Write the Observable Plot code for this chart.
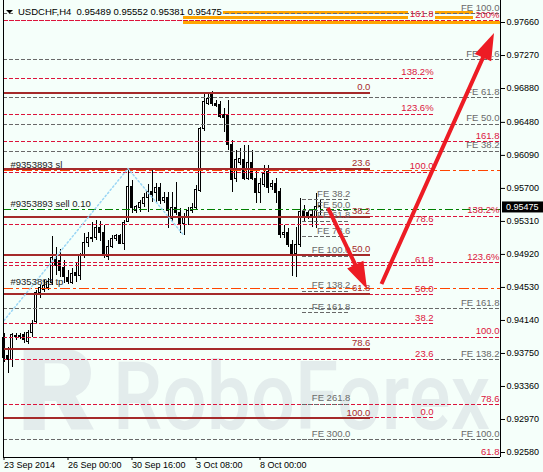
<!DOCTYPE html>
<html>
<head>
<meta charset="utf-8">
<title>USDCHF H4</title>
<script src="https://cdn.jsdelivr.net/npm/d3@7"></script>
<script src="https://cdn.jsdelivr.net/npm/@observablehq/plot@0.6"></script>
<style>
  html, body { margin: 0; padding: 0; background: #f5fffa; }
  #chart svg { display: block; }
</style>
</head>
<body>
<div id="chart"></div>
<script>
// ---- USDCHF H4 quotes, bar 0 = 23 Sep 2014 08:00 ----
const symbol = "USDCHF,H4";
const opens  = [0.93927,0.93715,0.93667,0.93939,0.93951,0.93963,0.93880,0.93986,0.94116,0.94459,
                0.94494,0.94518,0.94577,0.94860,0.94837,0.94754,0.94636,0.94577,0.94695,0.94660,
                0.94908,0.95061,0.95097,0.95120,0.95227,0.95179,0.94884,0.95002,0.95097,0.95132,
                0.95049,0.95309,0.95711,0.95428,0.95463,0.95510,0.95581,0.95652,0.95640,0.95699,
                0.95557,0.95581,0.95333,0.95463,0.95404,0.95274,0.95357,0.95428,0.95463,0.95664,
                0.96396,0.96703,0.96833,0.96703,0.96680,0.96562,0.96550,0.96207,0.95817,0.96006,
                0.96030,0.95817,0.96006,0.95817,0.95640,0.95735,0.95888,0.95711,0.95758,0.95652,
                0.95144,0.95179,0.95026,0.94931,0.95026,0.95416,0.95404,0.95380,0.95345,0.95489];
const highs  = [0.93986,0.93821,0.93986,0.93986,0.93986,0.93998,0.94022,0.94140,0.94494,0.94553,
                0.94612,0.94636,0.95132,0.95002,0.94979,0.94849,0.94730,0.94754,0.94825,0.94931,
                0.95168,0.95179,0.95298,0.95321,0.95309,0.95262,0.95085,0.95144,0.95156,0.95156,
                0.95321,0.95935,0.95794,0.95498,0.95557,0.95640,0.95746,0.95935,0.95758,0.95758,
                0.95652,0.95652,0.95652,0.95770,0.95463,0.95404,0.95475,0.95522,0.95735,0.96420,
                0.96810,0.96833,0.96845,0.96739,0.96727,0.96644,0.96739,0.96266,0.96148,0.96172,
                0.96207,0.96207,0.96148,0.95912,0.95817,0.95971,0.95971,0.95794,0.95817,0.95699,
                0.95262,0.95227,0.95085,0.95238,0.95581,0.95498,0.95439,0.95439,0.95640,0.95552];
const lows   = [0.93644,0.93514,0.93585,0.93904,0.93915,0.93868,0.93856,0.93939,0.94104,0.94400,
                0.94471,0.94494,0.94553,0.94671,0.94648,0.94577,0.94565,0.94565,0.94589,0.94612,
                0.94872,0.95002,0.95061,0.95085,0.95073,0.94872,0.94849,0.94990,0.95073,0.95038,
                0.94967,0.95298,0.95404,0.95404,0.95416,0.95475,0.95416,0.95534,0.95534,0.95510,
                0.95522,0.95227,0.95309,0.95380,0.95168,0.95144,0.95262,0.95404,0.95451,0.95652,
                0.96373,0.96680,0.96668,0.96656,0.96526,0.96361,0.96148,0.95652,0.95770,0.95971,
                0.95794,0.95794,0.95794,0.95522,0.95522,0.95711,0.95640,0.95676,0.95522,0.95109,
                0.95109,0.95002,0.94660,0.94648,0.95002,0.95298,0.95333,0.95238,0.95227,0.95381];
const closes = [0.93691,0.93667,0.93963,0.93951,0.93939,0.93904,0.93986,0.94104,0.94459,0.94518,
                0.94553,0.94589,0.94872,0.94778,0.94719,0.94648,0.94589,0.94683,0.94660,0.94908,
                0.95061,0.95109,0.95120,0.95227,0.95168,0.94908,0.95002,0.95097,0.95132,0.95049,
                0.95286,0.95711,0.95463,0.95475,0.95522,0.95581,0.95652,0.95628,0.95699,0.95546,
                0.95581,0.95439,0.95463,0.95404,0.95274,0.95368,0.95439,0.95463,0.95676,0.96396,
                0.96715,0.96762,0.96703,0.96668,0.96538,0.96526,0.96207,0.95794,0.96030,0.96042,
                0.95817,0.96006,0.95817,0.95640,0.95758,0.95876,0.95699,0.95758,0.95640,0.95144,
                0.95179,0.95026,0.94931,0.95026,0.95416,0.95357,0.95357,0.95345,0.95475,0.95475];

// ---- axes ----
const timeTicks  = [0, 16, 32, 48, 64];
const timeLabels = ["23 Sep 2014", "26 Sep 00:00", "30 Sep 16:00", "3 Oct 08:00", "8 Oct 00:00"];
const priceTicks = [0.97660, 0.97270, 0.96880, 0.96480, 0.96090, 0.95700, 0.95310,
                    0.94920, 0.94530, 0.94140, 0.93750, 0.93360, 0.92970, 0.92580];
const priceTop = 0.97920, priceBottom = 0.92521;
const barFirst = -0.125, barLast = 124.125;

// ---- Fibonacci retracement, brown solid ----
const retrLabels = ["0.0", "23.6", "38.2", "50.0", "61.8", "78.6", "100.0"];
const retrPrices = [0.96833, 0.95924, 0.95362, 0.94908, 0.94453, 0.93806, 0.92982];
const retrEnd = 91.6;

// ---- Fibonacci retracement, crimson dashed (ends at bar 107.4) ----
const fiboBLabels = ["0.0", "23.6", "38.2", "50.0", "61.8", "78.6", "100.0", "123.6%", "138.2%", "161.8"];
const fiboBPrices = [0.92990, 0.93675, 0.94099, 0.94441, 0.94784, 0.95271, 0.95892, 0.96577, 0.97001, 0.97686];
const fiboBEnd = 107.4;

// ---- Fibonacci retracement, crimson dashed, full width ----
const fiboCLabels = ["61.8", "78.6", "100.0", "123.6%", "138.2%", "161.8", "200%"];
const fiboCPrices = [0.92516, 0.93144, 0.93943, 0.94825, 0.95370, 0.96252, 0.97679];

// ---- Fibonacci expansion, gray dashed, full width ----
const expDLabels = ["FE 100.0", "FE 78.6", "FE 61.8", "FE 50.0", "FE 38.2", "FE 161.8", "FE 138.2", "FE 100.0"];
const expDPrices = [0.97766, 0.97223, 0.96774, 0.96459, 0.96140, 0.94278, 0.93676, 0.92731];

// ---- Fibonacci expansion, gray dashed, short ----
const expELabels = ["FE 38.2", "FE 50.0", "FE 61.8", "FE 78.6", "FE 100.0", "FE 138.2", "FE 161.8", "FE 261.8", "FE 300.0"];
const expEPrices = [0.95566, 0.95438, 0.95311, 0.95129, 0.94897, 0.94485, 0.94230, 0.93148, 0.92734];
const expEStart = 74.625, expEEnd = 86.6;

// ---- orange levels at the top ----
const orangePrices = [0.97778, 0.97778, 0.97725, 0.97725, 0.97660];
const orangeFrom   = [54.625, 107.875, 44.875, 107.875, 44.875];
const orangeTo     = [101.125, 117.375, 101.125, 117.375, 124.125];

// ---- order #9353893 ----
const orderLabels = ["#9353893 sl", "#9353893 sell 0.10", "#9353893 tp"];
const orderPrices = [0.95906, 0.95451, 0.94520];

// ---- trend line of the expansion ----
const trendBars   = [0, 31, 45];
const trendPrices = [0.94140, 0.95935, 0.95144];

// ---- forecast arrows ----
const arrowFromBar   = [81.125, 94.5];
const arrowFromPrice = [0.95463, 0.94565];
const arrowToBar     = [90.875, 122.625];
const arrowToPrice   = [0.94506, 0.97530];

// ---- colours ----
const BG = "#f5fffa", BROWN = "#a52a2a", CRIMSON = "#dc143c", GRAY = "#696969",
      ORANGE = "#ffa500", ORANGERED = "#ff4500", GREEN = "#008000", SKY = "#9ad6f5",
      ARROW = "#ed1c24", WATERMARK = "#e3ecec";

const bars = opens.map((o, i) => ({i, open: o, high: highs[i], low: lows[i], close: closes[i]}));
const up = bars.filter(d => d.close >= d.open);
const down = bars.filter(d => d.close < d.open);
const zip = (labels, prices) => labels.map((label, k) => ({label, price: prices[k]}));
const retr = zip(retrLabels, retrPrices);
const fiboB = zip(fiboBLabels, fiboBPrices);
const fiboC = zip(fiboCLabels, fiboCPrices);
const expD = zip(expDLabels, expDPrices);
const expE = zip(expELabels, expEPrices);
const orders = zip(orderLabels, orderPrices);
const orange = orangePrices.map((p, k) => ({price: p, from: orangeFrom[k], to: orangeTo[k]}));
const trend = trendBars.map((b, k) => ({bar: b, price: trendPrices[k]}));
const inside = d => d.price >= priceBottom && d.price <= priceTop;

const dash = "4,2";
const crisp = {shapeRendering: "crispEdges"};
const label = {y: "price", text: "label", textAnchor: "end", dy: -6, fontSize: 9.5};

const chart = Plot.plot({
  width: 543,
  height: 472,
  marginLeft: 3,
  marginRight: 43,
  marginTop: 0,
  marginBottom: 15,
  style: {background: BG, fontFamily: "'Liberation Sans', Arial, sans-serif", color: "black", overflow: "visible"},
  x: {domain: [barFirst, barLast]},
  y: {domain: [priceBottom, priceTop]},
  marks: [
    // candles
    Plot.ruleX(bars, {x: "i", y1: "low", y2: "high", stroke: "black", ...crisp}),
    Plot.rect(up, {x1: d => d.i - 0.25, x2: d => d.i + 0.25, y1: "open", y2: "close", fill: "white", stroke: "black", ...crisp}),
    Plot.rect(down, {x1: d => d.i - 0.25, x2: d => d.i + 0.25, y1: "open", y2: "close", fill: "black", stroke: "black", ...crisp}),

    // orange levels
    Plot.ruleY(orange, {y: "price", x1: "from", x2: "to", stroke: ORANGE, strokeWidth: 3, ...crisp}),

    // full-width expansion and retracement levels
    Plot.ruleY(expD, {y: "price", stroke: GRAY, strokeDasharray: dash, ...crisp}),
    Plot.ruleY(fiboC.filter(inside), {y: "price", stroke: CRIMSON, strokeDasharray: dash, ...crisp}),

    // order lines
    Plot.ruleY(orders.filter(d => d.label !== orderLabels[1]), {y: "price", stroke: ORANGERED, strokeDasharray: "10,3,3,3", ...crisp}),
    Plot.ruleY(orders.filter(d => d.label === orderLabels[1]), {y: "price", stroke: GREEN, strokeDasharray: "8,3,3,3", ...crisp}),

    // crimson retracement ending at bar 107
    Plot.ruleY(fiboB.filter(d => d.label !== "161.8"), {y: "price", x1: () => barFirst, x2: () => fiboBEnd, stroke: CRIMSON, strokeDasharray: dash, ...crisp}),
    Plot.ruleY(fiboB.filter(d => d.label === "161.8"), {y: "price", x1: () => barFirst, x2: () => fiboBEnd, stroke: CRIMSON, strokeDasharray: "2,1", ...crisp}),

    // brown retracement
    Plot.ruleY(retr, {y: "price", x1: () => barFirst, x2: () => retrEnd, stroke: BROWN, strokeWidth: 2, ...crisp}),

    // short expansion
    Plot.ruleY(expE, {y: "price", x1: () => expEStart, x2: () => expEEnd, stroke: GRAY, strokeDasharray: dash, ...crisp}),

    // expansion trend line
    Plot.line(trend, {x: "bar", y: "price", stroke: SKY, strokeDasharray: "1.5,2.5"}),

    // level labels
    Plot.text(retr, {...label, x: () => retrEnd, fill: BROWN}),
    Plot.text(fiboB, {...label, x: () => fiboBEnd, fill: CRIMSON}),
    Plot.text(fiboC, {...label, frameAnchor: "right", dx: -1, fill: CRIMSON}),
    Plot.text(expD, {...label, frameAnchor: "right", dx: -1, fill: GRAY}),
    Plot.text(expE, {...label, x: () => expEEnd, fill: GRAY}),
    Plot.text(orders, {y: "price", text: "label", frameAnchor: "left", textAnchor: "start", dx: 7, dy: -6, fontSize: 9.5, fill: "#222"}),

    // axes and frame
    Plot.axisY(priceTicks, {anchor: "right", tickSize: 4, tickPadding: 2, tickFormat: d => d.toFixed(5), fontSize: 9, label: null}),
    Plot.axisX(timeTicks, {anchor: "bottom", tickSize: 3, tickPadding: 1, tickFormat: d => timeLabels[timeTicks.indexOf(d)], textAnchor: "start", fontSize: 9, label: null}),
    Plot.ruleX([barFirst, barLast], {stroke: "black", ...crisp}),
    Plot.ruleY([priceBottom], {stroke: "black", ...crisp})
  ]
});

document.getElementById("chart").append(chart);

const svg = d3.select(chart);
const sx = chart.scale("x"), sy = chart.scale("y");
const X = sx.apply ? v => sx.apply(v) : d3.scaleLinear(sx.domain, sx.range);
const Y = sy.apply ? v => sy.apply(v) : d3.scaleLinear(sy.domain, sy.range);

// watermark under all marks
const wm = svg.insert("g", "g").attr("fill", WATERMARK).attr("text-anchor", "start");
wm.append("text")
  .attr("x", 17).attr("y", 430)
  .attr("font-family", "Roboto, sans-serif").attr("font-weight", 900).attr("font-size", 115)
  .attr("textLength", 80).attr("lengthAdjust", "spacingAndGlyphs")
  .text("R");
wm.append("text")
  .attr("x", 113).attr("y", 429)
  .attr("font-family", "Roboto, sans-serif").attr("font-weight", 500).attr("font-size", 94)
  .attr("textLength", 377).attr("lengthAdjust", "spacingAndGlyphs")
  .text("RoboForex");

// forecast arrows
function arrowPath(x1, y1, x2, y2, shaft = 4, headLen = 27, headHalf = 9) {
  const dx = x2 - x1, dy = y2 - y1, L = Math.hypot(dx, dy);
  const ux = dx / L, uy = dy / L, px = -uy, py = ux, s = shaft / 2;
  const bx = x2 - ux * headLen, by = y2 - uy * headLen;
  return `M${x1 + px * s},${y1 + py * s}L${bx + px * s},${by + py * s}L${bx + px * headHalf},${by + py * headHalf}` +
         `L${x2},${y2}L${bx - px * headHalf},${by - py * headHalf}L${bx - px * s},${by - py * s}L${x1 - px * s},${y1 - py * s}Z`;
}
const ag = svg.append("g").attr("fill", ARROW);
arrowFromBar.forEach((b, k) => {
  ag.append("path").attr("d", arrowPath(X(b), Y(arrowFromPrice[k]), X(arrowToBar[k]), Y(arrowToPrice[k])));
});

// current bid box on the price axis
const last = bars[bars.length - 1];
const yBid = Y(last.close);
const bidG = svg.append("g").attr("text-anchor", "start");
bidG.append("rect").attr("x", X(barLast) + 2).attr("y", yBid - 5.5).attr("width", 543 - X(barLast) - 2).attr("height", 11).attr("fill", "black");
bidG.append("text").attr("x", X(barLast) + 6).attr("y", yBid).attr("dy", "0.35em")
  .attr("font-size", 9).attr("fill", "white").text(last.close.toFixed(5));

// symbol header with its opaque box
const hg = svg.append("g").attr("text-anchor", "start");
const headerText = `${symbol}\u00a0\u00a0${last.open.toFixed(5)} ${last.high.toFixed(5)} ${last.low.toFixed(5)} ${last.close.toFixed(5)}`;
const box = hg.append("rect").attr("fill", BG);
const ht = hg.append("text").attr("x", 18).attr("y", 14.5).attr("font-size", 9.5).attr("fill", "black").text(headerText);
const bb = ht.node().getBBox();
box.attr("x", 15).attr("y", 4).attr("width", bb.x + bb.width - 15 + 1).attr("height", 11.5);
hg.append("path").attr("d", "M6,10L13,10L9.5,13.5Z").attr("fill", "black");
</script>
</body>
</html>
